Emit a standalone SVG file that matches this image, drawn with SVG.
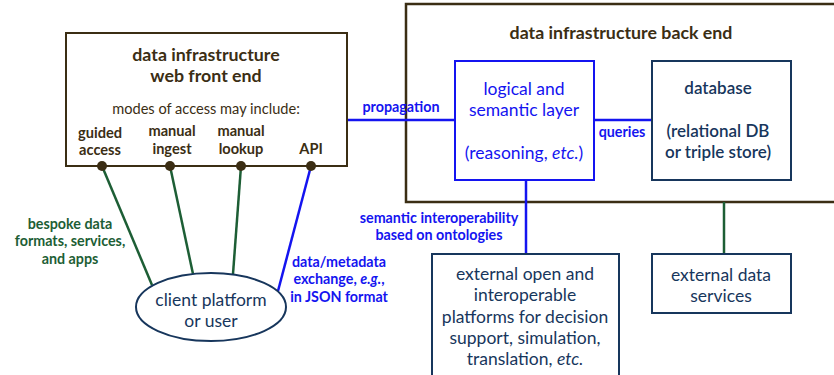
<svg xmlns="http://www.w3.org/2000/svg" width="834" height="375" viewBox="0 0 834 375">
<style>
text{font-family:Lato,"Noto Sans","Liberation Sans",sans-serif;text-anchor:middle}
.brown{fill:#3b2e14}
.b{font-weight:bold}
.blue{fill:#1414f0}
.green{fill:#1d5e35}
.navy{fill:#17365c}
.t18{font-size:17.8px}
.t16{font-size:17.5px}
.t13{font-size:14.6px}
.t12{font-size:14.3px}
.box{fill:#fff;stroke-width:2}
</style>
<rect width="834" height="375" fill="#fff"/>
<g id="backend">
<rect x="406" y="4" width="440" height="198" fill="#fff" stroke="#3b2e14" stroke-width="2.5"/>
<text x="621" y="39" class="brown b t18">data infrastructure back end</text>
</g>
<g id="connectors" fill="none" stroke-width="2.5">
<line x1="347" y1="120" x2="455" y2="120" stroke="#1414f0"/>
<line x1="594" y1="120" x2="652" y2="120" stroke="#1414f0"/>
<line x1="526" y1="180" x2="526" y2="254" stroke="#1414f0"/>
<line x1="724" y1="202" x2="724" y2="254" stroke="#1d5e35"/>
<line x1="102" y1="166" x2="152" y2="285" stroke="#1d5e35"/>
<line x1="170" y1="166" x2="193" y2="274" stroke="#1d5e35"/>
<line x1="241" y1="166" x2="233" y2="274" stroke="#1d5e35"/>
<line x1="311" y1="166" x2="278" y2="291" stroke="#1414f0"/>
</g>
<g id="labels">
<text x="401" y="112" class="blue b t12">propagation</text>
<text x="622" y="137" class="blue b t12">queries</text>
<text x="439" y="223" class="blue b t12">semantic interoperability</text>
<text x="439" y="240" class="blue b t12">based on ontologies</text>
<text x="70" y="229" class="green b t12">bespoke data</text>
<text x="70" y="246" class="green b t12">formats, services,</text>
<text x="70" y="264" class="green b t12">and apps</text>
<text x="339" y="267" class="blue b t12">data/metadata</text>
<text x="339" y="284" class="blue b t12">exchange, <tspan font-style="italic">e.g.</tspan>,</text>
<text x="339" y="302" class="blue b t12">in JSON format</text>
</g>
<g id="frontend">
<rect x="66" y="33" width="281" height="133" class="box" stroke="#3b2e14" stroke-width="2.5"/>
<text x="206" y="61" class="brown b t18">data infrastructure</text>
<text x="206" y="82" class="brown b t18">web front end</text>
<text x="206" y="114" class="brown t13">modes of access may include:</text>
<text x="100" y="138" class="brown b t13">guided</text>
<text x="100" y="155" class="brown b t13">access</text>
<text x="172" y="136" class="brown b t13">manual</text>
<text x="172" y="154" class="brown b t13">ingest</text>
<text x="241" y="136" class="brown b t13">manual</text>
<text x="241" y="154" class="brown b t13">lookup</text>
<text x="311" y="154" class="brown b t13">API</text>
<circle cx="102" cy="166" r="5" fill="#3b2e14"/>
<circle cx="170" cy="166" r="5" fill="#3b2e14"/>
<circle cx="241" cy="166" r="5" fill="#3b2e14"/>
<circle cx="311" cy="166" r="5" fill="#3b2e14"/>
</g>
<g id="logical">
<rect x="455" y="61" width="139" height="119" class="box" stroke="#1414f0"/>
<text x="524" y="95" class="blue t16">logical and</text>
<text x="524" y="116" class="blue t16">semantic layer</text>
<text x="524" y="159" class="blue t16">(reasoning, <tspan font-style="italic">etc.</tspan>)</text>
</g>
<g id="database">
<rect x="652" y="61" width="139" height="119" class="box" stroke="#17365c"/>
<text x="718" y="94" class="navy" font-size="17" font-weight="600">database</text>
<text x="718" y="137" class="navy" font-size="17" font-weight="600">(relational DB</text>
<text x="718" y="158" class="navy" font-size="17" font-weight="600">or triple store)</text>
</g>
<g id="external-open">
<rect x="432" y="254" width="187" height="130" class="box" stroke="#17365c"/>
<text x="525" y="280" class="navy t16">external open and</text>
<text x="525" y="301" class="navy t16">interoperable</text>
<text x="525" y="323" class="navy t16">platforms for decision</text>
<text x="525" y="344" class="navy t16">support, simulation,</text>
<text x="525" y="365" class="navy t16">translation, <tspan font-style="italic">etc.</tspan></text>
</g>
<g id="external-data">
<rect x="652" y="254" width="139" height="59" class="box" stroke="#17365c"/>
<text x="721" y="281" class="navy t16">external data</text>
<text x="721" y="302" class="navy t16">services</text>
</g>
<g id="client">
<ellipse cx="211" cy="307" rx="75" ry="34" class="box" stroke="#17365c"/>
<text x="211" y="306" class="navy t16">client platform</text>
<text x="211" y="327" class="navy t16">or user</text>
</g>
</svg>
